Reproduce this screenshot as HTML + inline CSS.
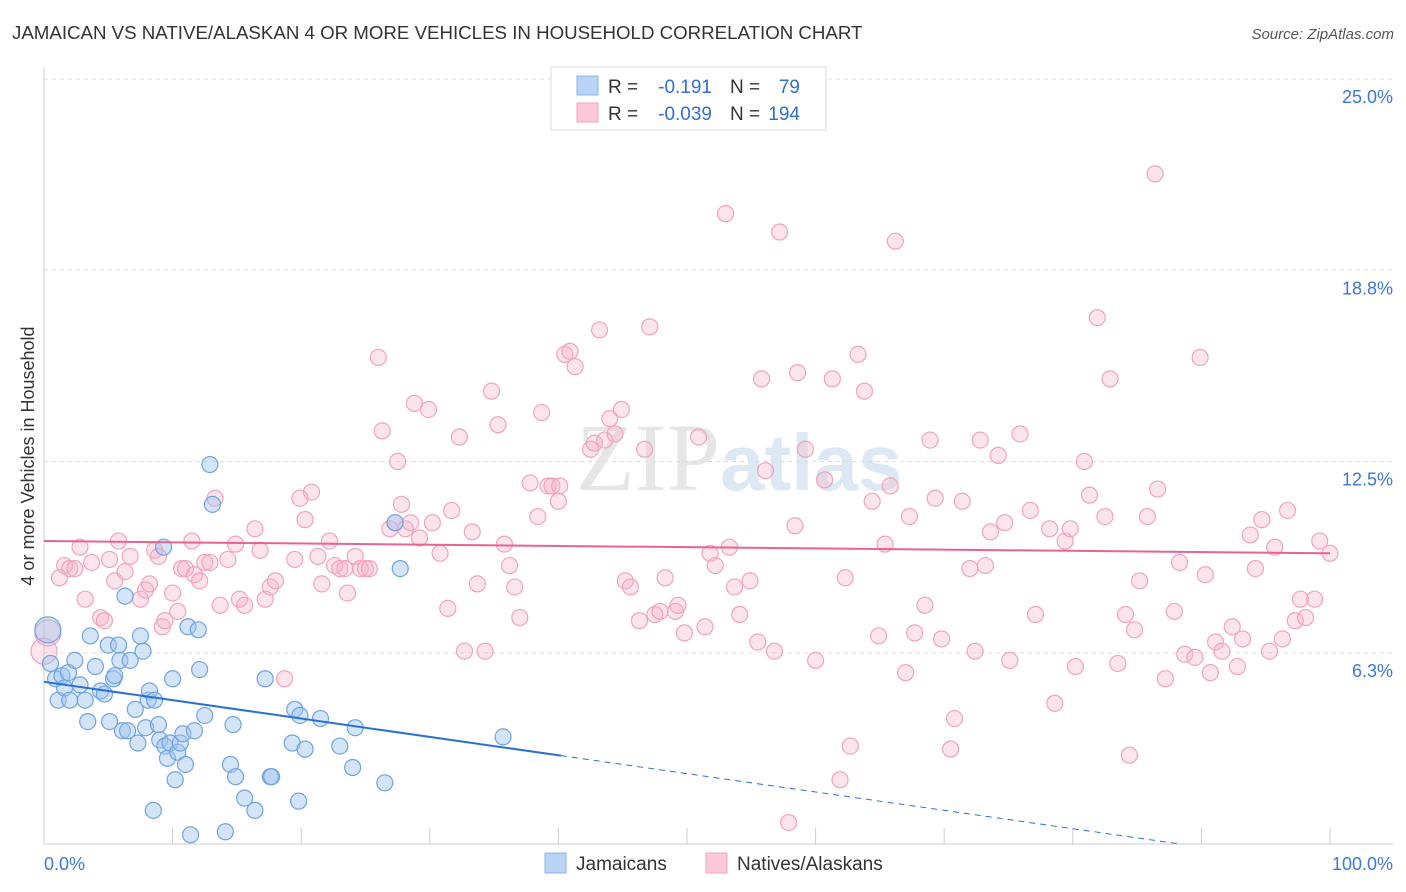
<!DOCTYPE html>
<html><head><meta charset="utf-8"><style>
body{margin:0;background:#fff;font-family:"Liberation Sans",sans-serif}
svg{display:block}
</style></head><body>
<svg id="chart" width="1406" height="892">
<text x="12" y="39" font-size="18.7" fill="#333">JAMAICAN VS NATIVE/ALASKAN 4 OR MORE VEHICLES IN HOUSEHOLD CORRELATION CHART</text>
<text x="1394" y="39" font-size="15" fill="#555" font-style="italic" text-anchor="end">Source: ZipAtlas.com</text>
<text x="720" y="490" font-size="96" fill="#e6e6e6" font-family="Liberation Serif,serif" text-anchor="end">ZIP</text>
<text x="720" y="490" font-size="80" fill="#dde8f5" font-weight="bold">atlas</text>
<g id="grid"></g>
<g id="axes"></g>
<g id="pts"></g>
<g id="trend"></g>
<text transform="translate(34,456) rotate(-90)" font-size="18" fill="#333" text-anchor="middle">4 or more Vehicles in Household</text>
<g>
<rect x="551" y="67" width="275" height="63" fill="#fff" stroke="#ddd"/>
<rect x="577" y="76" width="21" height="19" fill="#b8d3f3" stroke="#8ab4e8"/>
<rect x="577" y="103" width="21" height="19" fill="#fbc8d8" stroke="#f2a5be"/>
<text x="608" y="93" font-size="19" fill="#333">R =</text><text x="712" y="93" font-size="19" fill="#2f6fd0" text-anchor="end">-0.191</text>
<text x="730" y="93" font-size="19" fill="#333">N =</text><text x="800" y="93" font-size="19" fill="#2f6fd0" text-anchor="end">79</text>
<text x="608" y="120" font-size="19" fill="#333">R =</text><text x="712" y="120" font-size="19" fill="#2f6fd0" text-anchor="end">-0.039</text>
<text x="730" y="120" font-size="19" fill="#333">N =</text><text x="800" y="120" font-size="19" fill="#2f6fd0" text-anchor="end">194</text>
</g>
<g>
<rect x="545" y="853" width="21" height="20" fill="#b8d3f3" stroke="#8ab4e8"/>
<text x="576" y="870" font-size="19" fill="#333">Jamaicans</text>
<rect x="706" y="853" width="21" height="20" fill="#fbc8d8" stroke="#f2a5be"/>
<text x="737" y="870" font-size="19" fill="#333">Natives/Alaskans</text>
</g>
</svg>
<script>
const yTicks=[6.25,12.5,18.75,25];
const yTickLabels=["6.3%","12.5%","18.8%","25.0%"];
const xTicks=[0,10,20,30,40,50,60,70,80,90,100];
const blueX=[0.3,0.5,0.9,1.1,1.4,1.6,2.0,1.9,2.4,2.8,3.2,3.4,3.6,4.0,4.4,4.7,5.0,5.1,5.4,5.5,5.8,5.9,6.1,6.3,6.5,6.7,7.1,7.3,7.5,7.7,7.9,8.1,8.2,8.5,8.6,8.9,9.0,9.3,9.4,9.6,9.8,10.0,10.2,10.4,10.6,10.8,11.0,11.2,11.4,11.7,12.0,12.1,12.5,12.9,13.1,14.1,14.5,14.7,14.9,15.6,16.4,17.2,17.6,17.7,19.3,19.5,19.8,19.9,20.3,21.5,23.0,24.0,24.2,26.5,27.3,27.7,35.7];
const blueY=[7.0,5.9,5.4,4.7,5.5,5.1,4.7,5.6,6.0,5.2,4.7,4.0,6.8,5.8,5.0,4.9,6.5,4.0,5.4,5.5,6.5,6.0,3.7,8.1,3.7,6.0,4.4,3.3,6.8,6.3,3.8,4.7,5.0,1.1,4.7,3.9,3.4,9.7,3.2,2.8,3.3,5.4,2.1,3.0,3.3,3.6,2.6,7.1,0.3,3.7,7.0,5.7,4.2,12.4,11.1,0.4,2.6,3.9,2.2,1.5,1.1,5.4,2.2,2.2,3.3,4.4,1.4,4.2,3.1,4.1,3.2,2.5,3.8,2.0,10.5,9.0,3.5];
const pinkX=[0,0.3,1.2,1.6,2.0,2.4,2.8,3.2,3.7,4.4,4.7,5.1,5.5,5.8,6.3,6.7,7.5,7.9,8.2,8.6,8.9,9.2,9.4,10.0,10.4,10.7,11.0,11.5,11.7,12.1,12.5,12.9,13.3,13.7,14.3,14.9,15.2,15.6,16.4,16.8,17.2,17.6,18.0,18.7,19.5,19.9,20.3,20.8,21.3,21.6,22.2,22.6,23.0,23.4,23.6,24.2,24.6,25.0,25.3,26.0,26.3,26.9,27.3,27.5,27.8,28.1,28.5,28.8,29.2,29.9,30.2,30.8,31.4,31.7,32.3,32.7,33.3,33.7,34.3,34.8,35.3,35.8,36.2,36.6,37.0,37.8,38.4,38.7,39.2,39.5,40.0,40.1,40.5,40.9,41.3,42.5,42.8,43.2,43.6,44.0,44.4,44.9,45.2,45.6,46.3,46.7,47.1,47.5,47.9,48.3,49.1,49.3,49.8,50.9,51.4,51.8,52.2,53.0,53.3,53.7,54.1,54.9,55.5,55.8,56.1,56.8,57.2,57.9,58.4,58.6,59.2,60.0,60.7,61.3,61.9,62.3,62.7,63.3,63.8,64.4,64.9,65.4,65.8,66.2,67.0,67.3,67.7,68.5,68.9,69.3,69.8,70.5,70.8,71.4,72.0,72.4,72.8,73.2,73.6,74.2,74.7,75.1,75.9,76.7,77.1,78.2,78.6,79.4,79.8,80.2,80.9,81.3,81.9,82.5,82.9,83.5,84.1,84.4,84.8,85.2,85.8,86.4,86.6,87.2,87.9,88.3,88.7,89.5,89.9,90.3,90.7,91.1,91.6,92.4,92.8,93.2,93.8,94.2,94.7,95.3,95.7,96.3,96.7,97.3,97.7,98.1,98.8,99.2,100];
const pinkY=[6.3,6.9,8.7,9.1,9.0,9.0,9.7,8.0,9.2,7.4,7.3,9.3,8.6,9.9,8.9,9.4,8.0,8.3,8.5,9.6,9.4,7.1,7.3,8.2,7.6,9.0,9.0,9.9,8.8,8.6,9.2,9.2,11.3,7.8,9.3,9.8,8.0,7.8,10.3,9.6,8.0,8.4,8.6,5.4,9.3,11.3,10.6,11.5,9.4,8.5,9.9,9.1,9.0,9.0,8.2,9.4,9.0,9.0,9.0,15.9,13.5,10.3,10.5,12.5,11.1,10.3,10.5,14.4,10.0,14.2,10.5,9.5,7.7,10.9,13.3,6.3,10.2,8.5,6.3,14.8,13.7,9.8,9.1,8.4,7.4,11.8,10.7,14.1,11.7,11.7,11.2,11.7,16.0,16.1,15.6,12.9,13.1,16.8,13.2,13.9,13.4,14.2,8.6,8.4,7.3,12.9,16.9,7.5,7.6,8.7,7.6,7.8,6.9,13.3,7.1,9.5,9.1,20.6,9.7,8.4,7.5,8.6,6.6,15.2,12.2,6.3,20.0,0.7,10.4,15.4,12.9,6.0,11.9,15.2,2.1,8.7,3.2,16.0,14.8,11.2,6.8,9.8,11.7,19.7,5.6,10.7,6.9,7.8,13.2,11.3,6.7,3.1,4.1,11.2,9.0,6.3,13.2,9.1,10.2,12.7,10.5,6.0,13.4,10.9,7.5,10.3,4.6,9.9,10.3,5.8,12.5,11.4,17.2,10.7,15.2,5.9,7.5,2.9,7.0,8.6,10.7,21.9,11.6,5.4,7.6,9.2,6.2,6.1,15.9,8.8,5.6,6.6,6.3,7.1,5.8,6.7,10.1,9.0,10.6,6.3,9.7,6.7,10.9,7.3,8.0,7.4,8.0,9.9,9.5];
const blueTrend=[5.3,-0.06];
const pinkTrend=[9.9,-0.004];
const NS="http://www.w3.org/2000/svg";
const X=v=>44+v*12.86, Y=v=>844-v*30.6;
function mk(tag,attrs,parent){const e=document.createElementNS(NS,tag);for(const k in attrs)e.setAttribute(k,attrs[k]);parent.appendChild(e);return e;}
const grid=document.getElementById('grid'),axes=document.getElementById('axes'),pts=document.getElementById('pts'),tr=document.getElementById('trend');
yTicks.forEach((t,i)=>{
 const l=mk('line',{x1:44,x2:1393,y1:Y(t),y2:Y(t),stroke:'#ddd','stroke-dasharray':'4,4'},grid);
 
 
 const tx=mk('text',{x:1393,y:Y(t)+24,'font-size':18,fill:'#3b78d8','text-anchor':'end'},grid);
 tx.textContent=yTickLabels[i];
 
 
});
const ax=mk('line',{x1:44,x2:44,y1:68,y2:844,stroke:'#ccc'},axes);


const bx=mk('line',{x1:44,x2:1393,y1:844,y2:844,stroke:'#ccc'},axes);


xTicks.forEach(t=>{
 const l=mk('line',{x1:X(t),x2:X(t),y1:828,y2:844,stroke:'#ccc'},axes);
 
 
});
const xl0=mk('text',{x:44,y:870,'font-size':18,fill:'#3b78d8'},axes);xl0.textContent='0.0%';


const xl1=mk('text',{x:1393,y:870,'font-size':18,fill:'#3b78d8','text-anchor':'end'},axes);xl1.textContent='100.0%';


pinkX.forEach((x,i)=>{
 const c=mk('circle',{cx:X(x),cy:Y(pinkY[i]),r:(i<2?13:8),fill:'rgba(246,178,200,0.35)',stroke:'#f0a3bc','stroke-width':1.2},pts);
 
 
});
blueX.forEach((x,i)=>{
 const c=mk('circle',{cx:X(x),cy:Y(blueY[i]),r:(i<1?13:8),fill:'rgba(160,196,238,0.45)',stroke:'#6fa3e3','stroke-width':1.2},pts);
 
 
});
const pl=mk('line',{x1:X(0),y1:Y(pinkTrend[0]),x2:X(100),y2:Y(pinkTrend[0]+pinkTrend[1]*100),stroke:'#e8648f','stroke-width':2},tr);


const bMax=Math.max(...blueX)+4.5;
const bl=mk('line',{x1:X(0),y1:Y(blueTrend[0]),x2:X(bMax),y2:Y(blueTrend[0]+blueTrend[1]*bMax),stroke:'#2a6fd6','stroke-width':2},tr);


const xEnd=-blueTrend[0]/blueTrend[1];
const bd=mk('line',{x1:X(bMax),y1:Y(blueTrend[0]+blueTrend[1]*bMax),x2:X(xEnd),y2:Y(0),stroke:'#2a6fd6','stroke-width':1,'stroke-dasharray':'6,5'},tr);


</script>
</body></html>
